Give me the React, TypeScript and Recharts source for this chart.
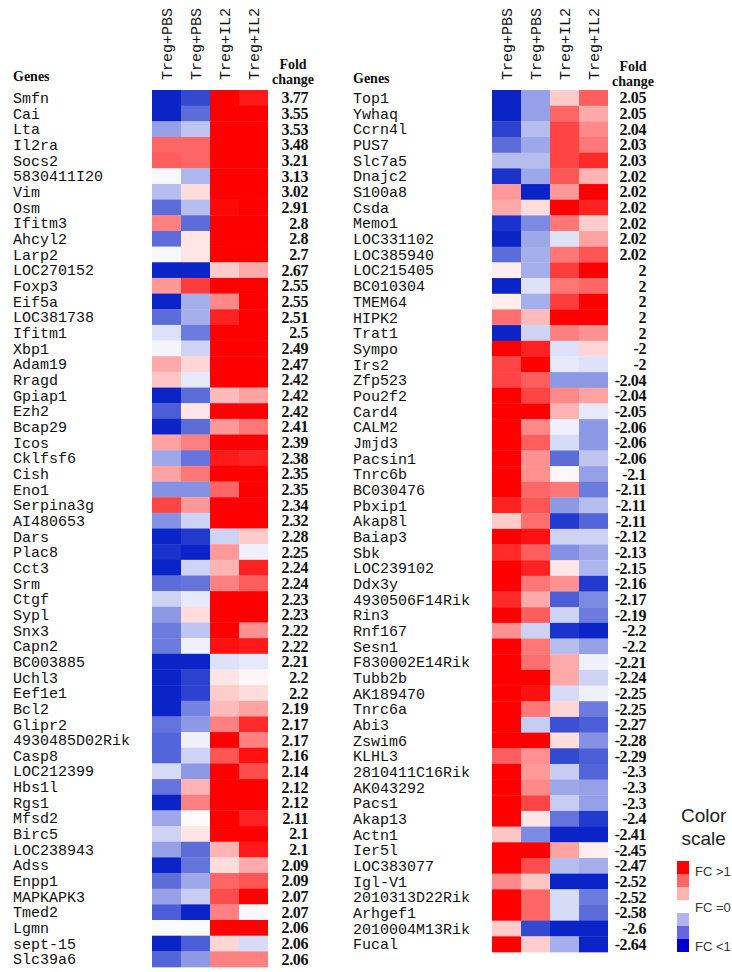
import React from 'react';
import { BarChart, Bar, XAxis, YAxis, Cell } from 'recharts';

// heat values: -3 = strong blue (FC<1), 0 = white, +3 = strong red (FC>1)
const columns = ['Treg+PBS', 'Treg+PBS', 'Treg+IL2', 'Treg+IL2'];

const leftGenes = [
  'Smfn', 'Cai', 'Lta', 'Il2ra', 'Socs2', '5830411I20', 'Vim', 'Osm', 'Ifitm3', 'Ahcyl2',
  'Larp2', 'LOC270152', 'Foxp3', 'Eif5a', 'LOC381738', 'Ifitm1', 'Xbp1', 'Adam19', 'Rragd', 'Gpiap1',
  'Ezh2', 'Bcap29', 'Icos', 'Cklfsf6', 'Cish', 'Eno1', 'Serpina3g', 'AI480653', 'Dars', 'Plac8',
  'Cct3', 'Srm', 'Ctgf', 'Sypl', 'Snx3', 'Capn2', 'BC003885', 'Uchl3', 'Eef1e1', 'Bcl2',
  'Glipr2', '4930485D02Rik', 'Casp8', 'LOC212399', 'Hbs1l', 'Rgs1', 'Mfsd2', 'Birc5', 'LOC238943', 'Adss',
  'Enpp1', 'MAPKAPK3', 'Tmed2', 'Lgmn', 'sept-15', 'Slc39a6',
];

const leftFold = [
  3.77, 3.55, 3.53, 3.48, 3.21, 3.13, 3.02, 2.91, 2.8, 2.8,
  2.7, 2.67, 2.55, 2.55, 2.51, 2.5, 2.49, 2.47, 2.42, 2.42,
  2.42, 2.41, 2.39, 2.38, 2.35, 2.35, 2.34, 2.32, 2.28, 2.25,
  2.24, 2.24, 2.23, 2.23, 2.22, 2.22, 2.21, 2.2, 2.2, 2.19,
  2.17, 2.17, 2.16, 2.14, 2.12, 2.12, 2.11, 2.1, 2.1, 2.09,
  2.09, 2.07, 2.07, 2.06, 2.06, 2.06,
];

const leftHeat = [
  [-3, -2.5, 3, 2.7], [-3, -2, 3, 3], [-1.3, -0.8, 3, 3], [1.8, 1.8, 3, 3], [1.9, 1.8, 3, 3],
  [-0.1, -1, 3, 3], [-0.9, 0.4, 3, 3], [-2, -0.9, 2.9, 3], [1.5, -2, 3, 3], [-2, 0.3, 3, 3],
  [-0.1, 0.3, 3, 3], [-3, -3, 0.6, 1], [1.2, 2.3, 3, 3], [-3, -1.1, 1.4, 3], [-2, -1.1, 2.6, 3],
  [-0.4, -1.8, 3, 3], [-0.15, -0.6, 3, 3], [1, 0.5, 3, 3], [0.7, -0.3, 3, 3], [-3, -2, 0.8, 1.1],
  [-2.2, 0.3, 3, 3], [-3, -2, 1.2, 1.6], [1.1, 1.5, 3, 3], [-1.2, -1.9, 2.7, 2.6], [1.1, 1.6, 3, 3],
  [-1.5, -1.5, 1.8, 3], [2.2, 1.2, 3, 3], [-1.5, -0.6, 3, 3], [-3, -2.7, -0.6, 0.6], [-2.8, -3, 1.2, -0.2],
  [-3, -0.6, 0.9, 2.6], [-2, -1.9, 1.5, 1.9], [-0.6, -0.3, 3, 3], [-1.4, 0.4, 3, 3], [-1.8, -0.8, 3, 1.3],
  [-1.8, -0.2, 2.8, 2.7], [-3, -3, -0.4, -0.3], [-3, -2.6, 0.3, 0.1], [-3, -2.6, 0.6, 0.4], [-3, -1.7, 0.8, 1.1],
  [-1.9, -1.4, 1.5, 2.5], [-2.1, -0.2, 3, 1.5], [-2.1, -0.6, 2, 2.8], [-0.5, -1.4, 3, 2.1], [-1.9, 0.9, 3, 3],
  [-3, 1.5, 3, 3], [-1.2, 0.05, 3, 2.6], [-0.6, 0.3, 3, 3], [-1.3, -2, 0.9, 2.7], [-3, -1.9, 0.4, 1],
  [-2, -1.2, 1.8, 2], [-1.3, -0.7, 2.1, 3], [-2.2, -3, 1.5, -0.1], [-0.05, -0.05, 3, 3], [-3, -2.2, 0.5, -0.5],
  [-2.1, -1.4, 1.5, 1.5],
];

const rightGenes = [
  'Top1', 'Ywhaq', 'Ccrn4l', 'PUS7', 'Slc7a5', 'Dnajc2', 'S100a8', 'Csda', 'Memo1', 'LOC331102',
  'LOC385940', 'LOC215405', 'BC010304', 'TMEM64', 'HIPK2', 'Trat1', 'Sympo', 'Irs2', 'Zfp523', 'Pou2f2',
  'Card4', 'CALM2', 'Jmjd3', 'Pacsin1', 'Tnrc6b', 'BC030476', 'Pbxip1', 'Akap8l', 'Baiap3', 'Sbk',
  'LOC239102', 'Ddx3y', '4930506F14Rik', 'Rin3', 'Rnf167', 'Sesn1', 'F830002E14Rik', 'Tubb2b', 'AK189470', 'Tnrc6a',
  'Abi3', 'Zswim6', 'KLHL3', '2810411C16Rik', 'AK043292', 'Pacs1', 'Akap13', 'Actn1', 'Ier5l', 'LOC383077',
  'Igl-V1', '2010313D22Rik', 'Arhgef1', '2010004M13Rik', 'Fucal',
];

const rightFold = [
  2.05, 2.05, 2.04, 2.03, 2.03, 2.02, 2.02, 2.02, 2.02, 2.02,
  2.02, 2, 2, 2, 2, 2, -2, -2, -2.04, -2.04,
  -2.05, -2.06, -2.06, -2.06, -2.1, -2.11, -2.11, -2.11, -2.12, -2.13,
  -2.15, -2.16, -2.17, -2.19, -2.2, -2.2, -2.21, -2.24, -2.25, -2.25,
  -2.27, -2.28, -2.29, -2.3, -2.3, -2.3, -2.4, -2.41, -2.45, -2.47,
  -2.52, -2.52, -2.58, -2.6, -2.64,
];

const rightHeat = [
  [-3, -1.3, 0.6, 1.9], [-3, -1.3, 1.8, 1], [-2.6, -0.9, 2.2, 1.4], [-2, -1.2, 2.2, 1.6], [-0.9, -0.9, 2.2, 2.5],
  [-2.8, -1.2, 2, 0.9], [1.2, -3, 1.2, 3], [1, 0.4, 3, 2.6], [-2.8, -1.6, 1.6, 0.6], [-3, -1.2, -0.4, 1.1],
  [-2, -1.1, 1.6, 2], [0.2, -1.1, 2.3, 3], [-3, -0.4, 1.6, 1.8], [0.2, -1.1, 2.3, 3], [1.7, 0.8, 3, 3],
  [-3, -0.6, 1.5, 1.3], [3, 2.6, -0.4, 0.5], [2.2, 3, -0.3, -0.4], [2.2, 1.9, -1.4, -1.4], [3, 2.2, 1.4, 1.1],
  [3, 3, 0.9, -0.3], [3, 1.4, -0.2, -1.4], [3, 1.9, -0.5, -1.4], [3, 1.3, -2, -0.8], [3, 1.3, 0.1, -1.3],
  [3, 1.8, 1.6, -1.8], [2.6, 2, -1.4, -0.9], [0.6, 1.7, -2.7, -2.1], [3, 2.8, -0.6, -0.6], [2.5, 1.9, -1.5, -1.2],
  [3, 2.6, 0.3, -1], [3, 1.6, 1.3, -2.7], [2.5, 1, -2.2, -1.6], [3, 1.9, -0.6, -1.8], [1.3, -0.6, -2.8, -3],
  [3, 1.6, -0.9, -1.3], [3, 1.7, 1, -0.2], [3, 3, 1, -0.6], [3, 2.8, -0.5, -0.2], [3, 1.6, 0.5, -1.8],
  [3, -0.7, -2.4, -2.2], [3, 3, 0.4, -1.5], [1.9, 1.3, -2.5, -2.2], [3, 1.2, -0.7, -2.1], [3, 1.4, -1.2, -1.3],
  [3, 2.2, -0.7, -1.3], [3, 0.3, -1.9, -2.7], [0.7, -1.6, -3, -3], [3, 3, 1.1, 0.2], [3, 2.1, -0.9, -1.1],
  [1.4, 0.7, -3, -3], [3, 1.8, -0.5, -1.8], [3, 1.8, -0.5, -2], [0.6, -2.5, -3, -3], [3, 0.6, -1.1, -3],
];

const MONO = "'Liberation Mono', 'Courier New', monospace";
const SERIF = "'Liberation Serif', 'Times New Roman', serif";
const SANS = "'Liberation Sans', Arial, sans-serif";

function heatColor(v: number) {
  const t = Math.min(Math.abs(v), 3) / 3;
  if (v >= 0) {
    const c = Math.round(255 * (1 - t));
    return `rgb(255,${c},${c})`;
  }
  const r = Math.round(255 - 245 * t);
  const g = Math.round(255 - 219 * t);
  const b = Math.round(255 - 55 * t);
  return `rgb(${r},${g},${b})`;
}

const GeneTick = (props: any) => {
  const { y, payload } = props;
  return (
    <text x={13} y={y} dy="0.35em" fontFamily={MONO} fontSize={15} fill="#111" textAnchor="start">
      {payload.value}
    </text>
  );
};

const HeaderTick = (props: any) => {
  const { x, y, payload } = props;
  const label = columns[Math.floor(payload.value)];
  return (
    <text
      x={x}
      y={y}
      dy="0.35em"
      transform={`rotate(-90, ${x}, ${y})`}
      fontFamily={MONO}
      fontSize={15}
      fill="#111"
      textAnchor="start"
    >
      {label}
    </text>
  );
};

interface PanelProps {
  genes: string[];
  fold: number[];
  heat: number[][];
  left: number;
  bottom: number;
  foldOffset: number;
}

const HeatPanel: React.FC<PanelProps> = ({ genes, fold, heat, left, bottom, foldOffset }) => {
  const data = genes.map((g, i) => ({ gene: g, fc: fold[i], c0: 1, c1: 1, c2: 1, c3: 1 }));
  const foldOf = new Map(genes.map((g, i) => [g, fold[i]]));

  const FoldTick = (props: any) => {
    const { x, y, payload } = props;
    return (
      <text x={x + foldOffset} y={y} dy="0.35em" fontFamily={SERIF} fontWeight="bold" fontSize={16} letterSpacing={-0.4} fill="#111" textAnchor="end">
        {String(foldOf.get(payload.value))}
      </text>
    );
  };

  return (
    <div style={{ position: 'absolute', left, top: 0 }}>
      <BarChart
        width={330}
        height={972}
        data={data}
        layout="vertical"
        barCategoryGap={0}
        barGap={0}
        margin={{ top: 0, right: 0, bottom, left: 0 }}
      >
        <XAxis
          type="number"
          domain={[0, 4]}
          ticks={[0.5, 1.5, 2.5, 3.5]}
          orientation="top"
          height={90}
          axisLine={false}
          tickLine={false}
          tickSize={0}
          tickMargin={10}
          tick={<HeaderTick />}
          interval={0}
        />
        <YAxis
          yAxisId="g"
          type="category"
          dataKey="gene"
          width={152}
          axisLine={false}
          tickLine={false}
          interval={0}
          tick={<GeneTick />}
        />
        <YAxis
          yAxisId="f"
          type="category"
          dataKey="gene"
          orientation="right"
          width={330 - 152 - 116}
          axisLine={false}
          tickLine={false}
          tickSize={0}
          tickMargin={0}
          interval={0}
          tick={<FoldTick />}
        />
        {[0, 1, 2, 3].map((j) => (
          <Bar key={j} dataKey={`c${j}`} stackId="heat" yAxisId="g" isAnimationActive={false}>
            {data.map((_, i) => (
              <Cell key={i} fill={heatColor(heat[i][j])} />
            ))}
          </Bar>
        ))}
      </BarChart>
    </div>
  );
};

const headText: React.CSSProperties = {
  position: 'absolute',
  fontFamily: SERIF,
  fontWeight: 'bold',
  fontSize: 14,
  color: '#111',
  lineHeight: '15px',
};

const legendBoxes = ['#ff0000', '#ff6666', '#ffb3b3', null, '#b3b3ee', '#6666dd', '#0000cc'];

export default function App() {
  return (
    <div style={{ position: 'absolute', left: 0, top: 0, width: 732, height: 972, background: '#fff', overflow: 'hidden' }}>
      <HeatPanel genes={leftGenes} fold={leftFold} heat={leftHeat} left={0} bottom={5} foldOffset={40} />
      <HeatPanel genes={rightGenes} fold={rightFold} heat={rightHeat} left={340} bottom={20} foldOffset={38} />

      <div style={{ ...headText, left: 13, top: 69 }}>Genes</div>
      <div style={{ ...headText, left: 263, top: 57, width: 60, textAlign: 'center' }}>
        Fold
        <br />
        change
      </div>
      <div style={{ ...headText, left: 353, top: 71 }}>Genes</div>
      <div style={{ ...headText, left: 603, top: 59, width: 60, textAlign: 'center' }}>
        Fold
        <br />
        change
      </div>

      <div style={{ position: 'absolute', left: 681, top: 804, fontFamily: SANS, fontSize: 19, lineHeight: '23px', color: '#222', textAlign: 'center' }}>
        Color
        <br />
        scale
      </div>
      {legendBoxes.map((c, i) =>
        c ? (
          <div key={i} style={{ position: 'absolute', left: 677, top: 861 + i * 13, width: 12, height: 13, background: c }} />
        ) : null
      )}
      <div style={{ position: 'absolute', left: 695, top: 864, fontFamily: SANS, fontSize: 13, color: '#333' }}>FC &gt;1</div>
      <div style={{ position: 'absolute', left: 695, top: 900, fontFamily: SANS, fontSize: 13, color: '#333' }}>FC =0</div>
      <div style={{ position: 'absolute', left: 695, top: 939, fontFamily: SANS, fontSize: 13, color: '#333' }}>FC &lt;1</div>
    </div>
  );
}
